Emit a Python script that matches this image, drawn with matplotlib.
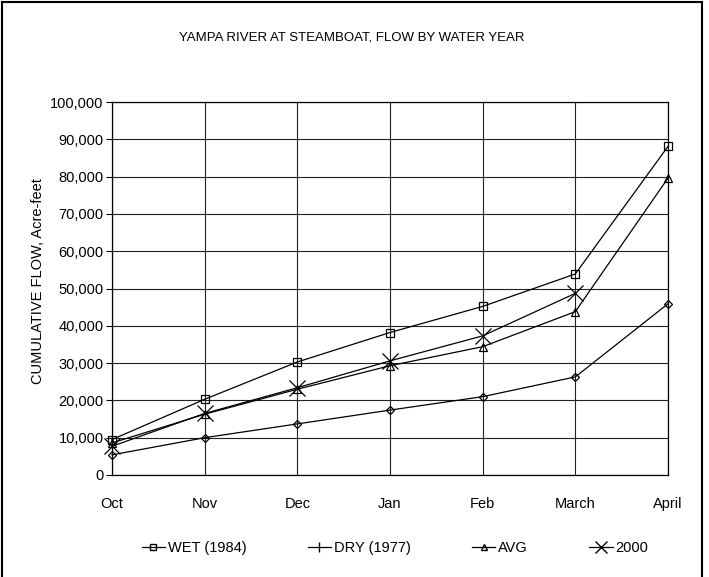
import matplotlib
matplotlib.use("Agg")
import matplotlib.pyplot as plt
from matplotlib.lines import Line2D
from matplotlib.ticker import FuncFormatter

plt.rcParams['font.family'] = ['Liberation Sans', 'DejaVu Sans']

months = ["Oct", "Nov", "Dec", "Jan", "Feb", "March", "April"]
wet_1984 = [9500, 20300, 30300, 38200, 45200, 53900, 88100]
dry_1977 = [5400, 10000, 13700, 17400, 21000, 26300, 45900]
avg = [8600, 16300, 23000, 29300, 34400, 43800, 79600]
y2000 = [7700, 16500, 23400, 30600, 37300, 48700]

title = "YAMPA RIVER AT STEAMBOAT, FLOW BY WATER YEAR"
ylabel = "CUMULATIVE FLOW, Acre-feet"

W, H = 709, 577
fig = plt.figure(figsize=(W/100, H/100), dpi=100)
ax = fig.add_axes([112/W, 1-475/H, (668-112)/W, (475-102)/H])

x = list(range(len(months)))
lk = dict(color='black', lw=0.9, markerfacecolor='none', markeredgecolor='black', clip_on=False)
ax.plot(x, wet_1984, marker='s', ms=6, mew=0.9, **lk)
ax.plot(x, dry_1977, marker='D', ms=4, mew=0.9, **lk)
ax.plot(x, avg, marker='^', ms=6, mew=0.9, **lk)
ax.plot(x[:len(y2000)], y2000, marker='x', ms=11, mew=0.9, **lk)

ax.set_xlim(0, 6)
ax.set_ylim(0, 100000)
ax.set_yticks(range(0, 100001, 10000))
ax.yaxis.set_major_formatter(FuncFormatter(lambda v, p: f"{int(v):,}"))
ax.set_xticks(x)
ax.set_xticklabels(months)
ax.grid(True, color='#222222', lw=0.8)
ax.set_axisbelow(True)
for s in ax.spines.values():
    s.set_color('black')
    s.set_linewidth(0.9)
ax.tick_params(axis='both', labelsize=10.5, colors='black')
ax.tick_params(axis='x', length=0, pad=16)
ax.tick_params(axis='y', length=4, width=0.8, pad=2)
ax.set_ylabel(ylabel, fontsize=10.5)
ax.yaxis.set_label_coords(-0.12, 0.52)

fig.text(352/W, 1-38/H, title, ha='center', va='center', fontsize=9.5)

# outer border
for xs, ys in [([2/W, 2/W], [0, 1-2/H]), ([2/W, 702/W], [1-2/H, 1-2/H]), ([702/W, 702/W], [0, 1-2/H])]:
    fig.add_artist(Line2D(xs, ys, color='black', lw=1.5, transform=fig.transFigure))

handles = [
    Line2D([], [], color='black', lw=0.9, marker='s', ms=5, mfc='none', mec='black'),
    Line2D([], [], color='black', lw=0.9, marker='|', ms=7, mec='black'),
    Line2D([], [], color='black', lw=0.9, marker='^', ms=5, mfc='none', mec='black'),
    Line2D([], [], color='black', lw=0.9, marker='x', ms=8, mec='black'),
]
labels = ["WET (1984)", "DRY (1977)", "AVG", "2000"]
fig.legend(handles, labels, loc='center', bbox_to_anchor=(395/W, 1-548/H), ncol=4,
           frameon=False, fontsize=10.5, handlelength=1.6, handletextpad=0.2,
           columnspacing=4.2)

fig.savefig("out.png", dpi=100)
